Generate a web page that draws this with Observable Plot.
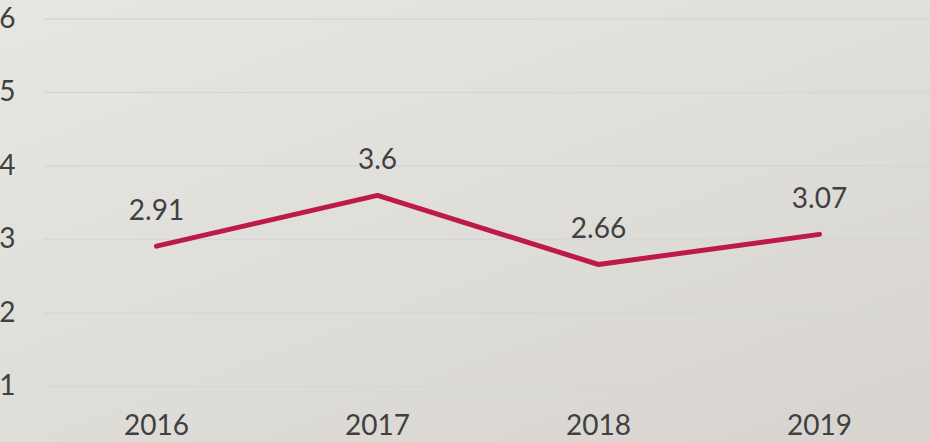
<!DOCTYPE html>
<html>
<head>
<meta charset="utf-8">
<script src="https://cdn.jsdelivr.net/npm/d3@7"></script>
<script src="https://cdn.jsdelivr.net/npm/@observablehq/plot@0.6"></script>
<style>
  html, body { margin: 0; padding: 0; background: #dfddd8; }
  #chart svg { display: block; }
</style>
</head>
<body>
<div id="chart"></div>
<script>
const years = ["2016", "2017", "2018", "2019"];
const values = [2.91, 3.6, 2.66, 3.07];
const labels = ["2.91", "3.6", "2.66", "3.07"];
const yTicks = [1, 2, 3, 4, 5, 6];

const data = years.map((y, i) => ({year: y, value: values[i], label: labels[i]}));

const font = "Lato, 'Open Sans', sans-serif";

const chart = Plot.plot({
  width: 930,
  height: 442,
  marginLeft: 44,
  marginRight: 0,
  marginTop: 18.5,
  marginBottom: 56,
  style: {
    fontFamily: font,
    color: "#404040",
    background: "linear-gradient(160deg, #e8e6e2 0%, #dfddd8 55%, #d7d4cf 100%)",
    overflow: "visible"
  },
  x: {type: "point", domain: years, padding: 0.5, label: null},
  y: {domain: [1, 6], label: null},
  marks: [
    Plot.ruleY(yTicks, {stroke: "#d2d7db", strokeWidth: 1.5}),
    Plot.axisY(yTicks, {tickSize: 0, tickPadding: 29, fontSize: 28, fill: "#404040", label: null, tickFormat: d => String(d)}),
    Plot.axisX({tickSize: 0, tickPadding: 29, fontSize: 28, fill: "#404040", label: null}),
    Plot.line(data, {x: "year", y: "value", stroke: "#be1a48", strokeWidth: 5, strokeLinejoin: "miter", strokeLinecap: "round"}),
    Plot.text(data, {x: "year", y: "value", text: "label", dy: -35, fontSize: 28, fill: "#404040"})
  ]
});

document.getElementById("chart").appendChild(chart);
</script>
</body>
</html>
